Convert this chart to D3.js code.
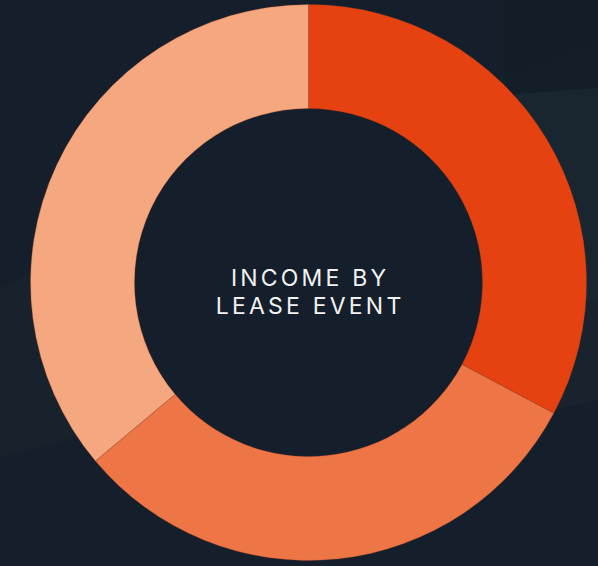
<!DOCTYPE html>
<html><head><meta charset="utf-8">
<script src="https://cdn.jsdelivr.net/npm/d3@7"></script>
<style>html,body{margin:0;padding:0;background:#151f2b;overflow:hidden}</style>
</head><body>
<svg id="chart" width="598" height="566"></svg>
<script>
const categories = ["Lease event A", "Lease event B", "Lease event C"];
const values = [32.8, 31.1, 36.1];
const colors = ["#e64211", "#ee7646", "#f5a77f"];
const title = ["INCOME BY", "LEASE EVENT"];

const W = 598, H = 566;
const svg = d3.select("#chart");
svg.append("rect").attr("width", W).attr("height", H).attr("fill", "#151f2b");
// subtle background shapes
const bg = svg.append("g");
bg.append("path").attr("d", "M0,287 L598,40 L598,300 L0,457 Z").attr("fill", "#1a2631").attr("opacity", 0.45);
bg.append("path").attr("d", "M505,0 L598,0 L598,88 L505,95 Z").attr("fill", "#131d27").attr("opacity", 0.6);
bg.append("path").attr("d", "M505,95 L598,88 L598,400 L505,420 Z").attr("fill", "#1b2732").attr("opacity", 0.5);

const cx = 308.5, cy = 282.5, R = 278, r = 174;
const pie = d3.pie().sort(null).value(d => d)(values);
const arc = d3.arc().innerRadius(r).outerRadius(R);
const g = svg.append("g").attr("transform", `translate(${cx},${cy})`);
g.append("circle").attr("r", r).attr("fill", "#151f2b");
g.selectAll("path.slice").data(pie).join("path")
  .attr("class", "slice")
  .attr("d", arc)
  .attr("fill", (d, i) => colors[i])
  .attr("stroke", "rgba(150,60,30,0.5)")
  .attr("stroke-width", 0.6);

const ls = 3.2;
const t = g.append("text").attr("text-anchor", "middle")
  .attr("fill", "#f2f2f2")
  .attr("font-family", "Inter, 'Open Sans', sans-serif")
  .attr("font-weight", 400)
  .attr("font-size", 23)
  .attr("letter-spacing", ls + "px");
title.forEach((line, i) => {
  t.append("tspan").attr("x", ls / 2).attr("y", i === 0 ? 3.2 : 31.4).text(line);
});
</script>
</body></html>
